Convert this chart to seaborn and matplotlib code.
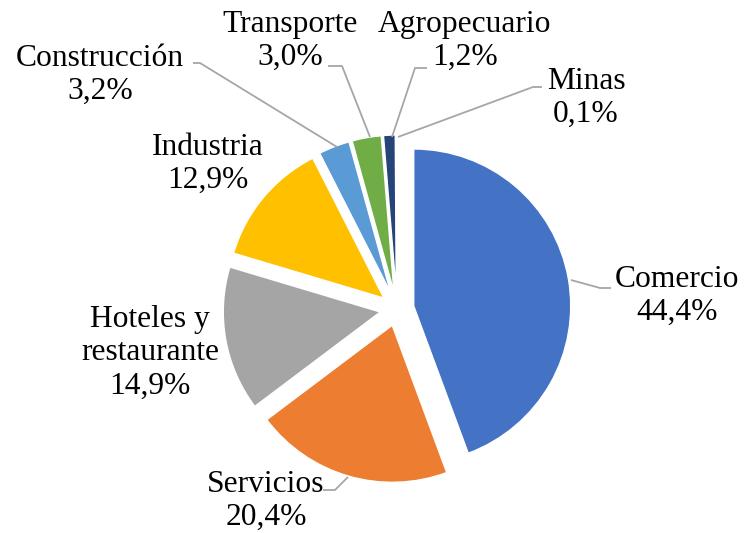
import matplotlib
matplotlib.use("Agg")
import matplotlib.pyplot as plt
import seaborn as sns

categories = ["Comercio", "Servicios", "Hoteles y\nrestaurante", "Industria",
              "Construcción", "Transporte", "Agropecuario", "Minas"]
values = [44.4, 20.4, 14.9, 12.9, 3.2, 3.0, 1.2, 0.1]
pct_labels = ["44,4%", "20,4%", "14,9%", "12,9%", "3,2%", "3,0%", "1,2%", "0,1%"]
colors = ["#4472C4", "#ED7D31", "#A5A5A5", "#FFC000", "#5B9BD5", "#70AD47",
          "#264478", "#9E480E"]

sns.set_theme(style="white")
plt.rcParams["font.family"] = ["Liberation Serif", "DejaVu Serif"]

W, H = 744, 533
fig = plt.figure(figsize=(W / 100, H / 100), dpi=100)
ax = fig.add_axes([0, 0, 1, 1])

center = (397, 224)
radius = 157
expl = 17
ax.pie(values, colors=sns.color_palette(colors), startangle=90, counterclock=False,
       center=center, radius=radius, explode=[expl] * len(values),
       wedgeprops=dict(edgecolor="white", linewidth=1.0))
ax.set_xlim(0, W)
ax.set_ylim(0, H)
ax.set_aspect("equal")
ax.axis("off")

label_pos = [(677, 237), (266, 32), (150, 180), (208, 369),
             (100, 458), (290, 492), (465, 492), (586, 435)]
for cat, pct, (x, y) in zip(categories, pct_labels, label_pos):
    ax.text(x, y, f"{cat}\n{pct}", ha="center", va="center",
            multialignment="center", fontsize=22.7, color="#000000",
            linespacing=1.2)

leaders = [
    [(571, 253), (600, 245), (611, 245)],
    [(348, 56), (335, 43), (323, 43)],
    [(337, 386), (200, 470), (193, 470)],
    [(370, 396), (342, 467), (328, 467)],
    [(392, 396), (415, 465), (427, 465)],
    [(398, 396), (533, 446), (542, 446)],
]
for pts in leaders:
    xs, ys = zip(*pts)
    ax.plot(xs, ys, color="#A6A6A6", linewidth=1.3, solid_capstyle="butt")

fig.savefig("out.png", dpi=100)
